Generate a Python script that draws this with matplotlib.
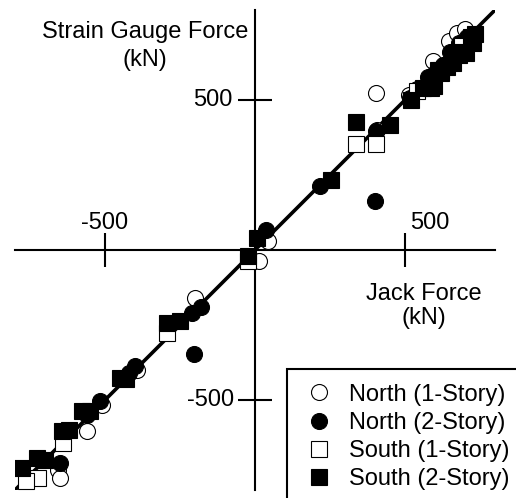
import matplotlib.pyplot as plt

plt.rcParams['font.family'] = ['Liberation Sans', 'DejaVu Sans']

# data (kN)
n1_x = [-656, -649, -559, -509, -393, -199, 12, 42, 402, 405, 512, 593, 646, 673, 700]
n1_y = [-733, -760, -603, -517, -400, -160, -37, 30, 523, 400, 517, 630, 697, 723, 735]

n2_x = [-649, -516, -399, -209, -202, 35, 215, 402, 399, 516, 540, 575, 600,
        625, 650, 680, 705, -180, -420, -560]
n2_y = [-710, -503, -387, -210, -347, 67, 213, 397, 163, 507, 535, 575, 590,
        615, 660, 690, 710, -190, -410, -550]

s1_x = [-723, -765, -639, -295, -25, 335, 402, 540, 620, 690]
s1_y = [-760, -770, -643, -277, -37, 353, 353, 530, 600, 680]

s2_x = [-776, -726, -643, -576, -549, -449, -292, -249, -22, 8, 252, 335, 449,
        520, 560, 586, 597, 610, 620, 640, 660, 680, 690, 703, 720, 727, 733,
        -700, -620, -430]
s2_y = [-727, -693, -603, -537, -537, -427, -243, -237, -20, 40, 233, 427, 417,
        500, 540, 540, 545, 600, 590, 610, 623, 650, 660, 657, 710, 690, 720,
        -700, -600, -430]

ticks = [-500, 500]
lim = 800

fig = plt.figure(figsize=(5.16, 4.98), dpi=100)
ax = fig.add_axes([15 / 516, 8 / 498, 480 / 516, 480 / 498])

ax.plot([-lim, lim], [-lim, lim], color='black', lw=2.6, zorder=2)

ms = 11.5
ax.plot(n1_x, n1_y, 'o', ms=ms, mfc='white', mec='black', mew=0.8,
        label='North (1-Story)', zorder=3)
ax.plot(n2_x, n2_y, 'o', ms=ms, mfc='black', mec='black', mew=0.8,
        label='North (2-Story)', zorder=4)
ax.plot(s1_x, s1_y, 's', ms=ms, mfc='white', mec='black', mew=0.8,
        label='South (1-Story)', zorder=5)
ax.plot(s2_x, s2_y, 's', ms=ms, mfc='black', mec='black', mew=0.8,
        label='South (2-Story)', zorder=6)

ax.set_xlim(-lim, lim)
ax.set_ylim(-lim, lim)

# cross-shaped axes through the origin
for side in ['top', 'right']:
    ax.spines[side].set_visible(False)
for side in ['left', 'bottom']:
    ax.spines[side].set_position('zero')
    ax.spines[side].set_linewidth(1.5)

ax.set_xticks(ticks)
ax.set_yticks(ticks)
ax.set_xticklabels([])
ax.set_yticklabels([])
ax.tick_params(direction='inout', length=25, width=1.5)

fs = 17
# tick labels placed by hand like the original
ax.annotate('-500', xy=(-500, 0), xytext=(0, 15), textcoords='offset points',
            ha='center', va='baseline', fontsize=fs)
ax.annotate('500', xy=(500, 0), xytext=(3.5, 15), textcoords='offset points',
            ha='left', va='baseline', fontsize=fs)
ax.annotate('500', xy=(0, 500), xytext=(-16, 0), textcoords='offset points',
            ha='right', va='center', fontsize=fs)
ax.annotate('-500', xy=(0, -500), xytext=(-15, 0), textcoords='offset points',
            ha='right', va='center', fontsize=fs)

fig.text(145 / 516, 1 - 21 / 498, 'Strain Gauge Force\n(kN)', ha='center',
         va='top', fontsize=fs, linespacing=1.35)
fig.text(424 / 516, 1 - 283 / 498, 'Jack Force\n(kN)', ha='center',
         va='top', fontsize=fs, linespacing=1.1)

leg = ax.legend(loc='upper left', bbox_to_anchor=(287 / 516, 1 - 369 / 498),
                bbox_transform=fig.transFigure, borderaxespad=0, fontsize=fs,
                frameon=True, fancybox=False, framealpha=1, edgecolor='black',
                borderpad=0.62, handlelength=1.45, handletextpad=0.57,
                labelspacing=0.26, numpoints=1)
leg.get_frame().set_linewidth(1.5)

fig.savefig('out.png', dpi=100)
